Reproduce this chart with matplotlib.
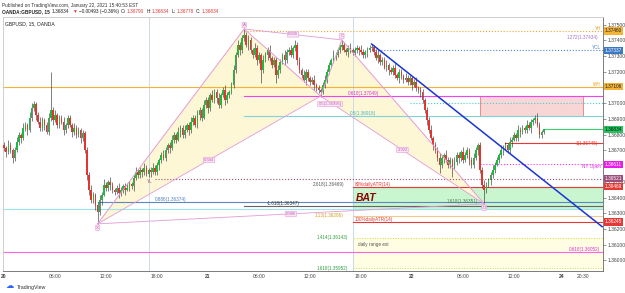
import numpy as np
import matplotlib
matplotlib.use('Agg')
import matplotlib.pyplot as plt
from matplotlib.patches import Rectangle, Polygon
import matplotlib.transforms as mtrans

plt.rcParams['font.family'] = ['Liberation Sans', 'DejaVu Sans']

## Dados: GBPUSD 15 min (OANDA), 20/01 00:00 -> 22/01 15:30
first_open = 1.36735
close = [
    1.36716, 1.36690, 1.36735, 1.36703, 1.36652, 1.36703, 1.36754, 1.36798, 1.36779, 1.36843,
    1.36862, 1.36830, 1.36907, 1.36970, 1.36996, 1.36926, 1.36881, 1.36843, 1.36894, 1.36862,
    1.36817, 1.36907, 1.36957, 1.36894, 1.36926, 1.36862, 1.36907, 1.36881, 1.36830, 1.36862,
    1.36907, 1.36862, 1.36817, 1.36843, 1.36798, 1.36830, 1.36779, 1.36811, 1.36703, 1.36544,
    1.36449, 1.36385, 1.36417, 1.36353, 1.36309, 1.36385, 1.36417, 1.36480, 1.36461, 1.36499,
    1.36480, 1.36449, 1.36436, 1.36461, 1.36430, 1.36449, 1.36474, 1.36449, 1.36461, 1.36487,
    1.36474, 1.36525, 1.36563, 1.36544, 1.36576, 1.36563, 1.36589, 1.36550, 1.36576, 1.36563,
    1.36589, 1.36563, 1.36608, 1.36639, 1.36671, 1.36652, 1.36703, 1.36735, 1.36716, 1.36767,
    1.36798, 1.36767, 1.36817, 1.36843, 1.36798, 1.36830, 1.36862, 1.36830, 1.36881, 1.36907,
    1.36862, 1.36926, 1.36957, 1.36907, 1.36989, 1.37021, 1.36970, 1.37053, 1.37021, 1.37072,
    1.37034, 1.36989, 1.37053, 1.37085, 1.37021, 1.37053, 1.37072, 1.37116, 1.37212, 1.37307,
    1.37371, 1.37339, 1.37415, 1.37434, 1.37371, 1.37403, 1.37339, 1.37307, 1.37352, 1.37275,
    1.37307, 1.37212, 1.37275, 1.37307, 1.37339, 1.37288, 1.37244, 1.37275, 1.37180, 1.37212,
    1.37263, 1.37307, 1.37275, 1.37326, 1.37339, 1.37307, 1.37352, 1.37371, 1.37275, 1.37212,
    1.37180, 1.37148, 1.37199, 1.37161, 1.37135, 1.37148, 1.37116, 1.37097, 1.37085, 1.37072,
    1.37116, 1.37148, 1.37199, 1.37244, 1.37275, 1.37307, 1.37307, 1.37339, 1.37358, 1.37371,
    1.37339, 1.37326, 1.37352, 1.37339, 1.37320, 1.37339, 1.37352, 1.37339, 1.37326, 1.37307,
    1.37326, 1.37339, 1.37352, 1.37358, 1.37326, 1.37288, 1.37307, 1.37263, 1.37275, 1.37225,
    1.37244, 1.37212, 1.37199, 1.37225, 1.37180, 1.37161, 1.37199, 1.37174, 1.37148, 1.37161,
    1.37135, 1.37161, 1.37116, 1.37135, 1.37097, 1.37085, 1.37072, 1.37021, 1.36957, 1.36894,
    1.36830, 1.36779, 1.36735, 1.36703, 1.36652, 1.36608, 1.36652, 1.36671, 1.36639, 1.36608,
    1.36639, 1.36589, 1.36627, 1.36671, 1.36652, 1.36690, 1.36639, 1.36671, 1.36703, 1.36639,
    1.36608, 1.36652, 1.36703, 1.36735, 1.36576, 1.36480, 1.36449, 1.36480, 1.36512, 1.36544,
    1.36576, 1.36608, 1.36639, 1.36671, 1.36703, 1.36716, 1.36735, 1.36703, 1.36754, 1.36767,
    1.36798, 1.36779, 1.36830, 1.36817, 1.36843, 1.36830, 1.36862, 1.36843, 1.36881, 1.36894,
    1.36907, 1.36862, 1.36798, 1.36817, 1.36834]
# pavios (em pips)
wick_up = [
    2, 1, 3, 2, 1, 2, 3, 2, 1, 3,  2, 1, 4, 3, 2, 1, 2, 3, 2, 1,
    2, 3, 24, 2, 3, 1, 2, 2, 3, 1,  2, 2, 1, 3, 2, 2, 1, 2, 1, 2,
    2, 3, 2, 1, 2, 3, 2, 4, 2, 1,  3, 2, 1, 2, 3, 2, 1, 2, 3, 2,
    1, 2, 3, 2, 2, 1, 3, 2, 1, 2,  3, 2, 2, 1, 2, 3, 2, 1, 2, 3,
    2, 1, 3, 2, 2, 3, 1, 2, 3, 2,  2, 3, 2, 1, 3, 2, 2, 1, 3, 2,
    2, 3, 1, 2, 3, 2, 1, 2, 3, 2,  3, 2, 2, 4, 2, 3, 2, 1, 3, 2,
    2, 1, 3, 2, 2, 3, 1, 2, 2, 3,  2, 1, 3, 2, 2, 3, 1, 3, 2, 2,
    1, 3, 2, 2, 1, 2, 3, 1, 2, 1,  2, 3, 2, 2, 1, 3, 2, 1, 2, 3,
    2, 1, 2, 3, 1, 2, 2, 1, 3, 2,  1, 2, 2, 2, 1, 2, 3, 1, 2, 2,
    3, 1, 2, 2, 3, 1, 2, 2, 1, 3,  2, 2, 1, 2, 3, 1, 2, 2, 1, 2,
    2, 3, 1, 2, 2, 3, 2, 1, 3, 2,  2, 1, 3, 2, 2, 1, 3, 2, 2, 1,
    2, 3, 2, 1, 2, 2, 3, 2, 1, 2,  3, 2, 2, 1, 3, 2, 2, 1, 3, 2,
    2, 1, 3, 2, 2, 1, 3, 2, 2, 1,  2, 3, 2, 1, 0]
wick_dn = [
    2, 3, 1, 2, 3, 2, 1, 2, 3, 1,  2, 3, 1, 2, 2, 3, 1, 2, 2, 3,
    1, 2, 2, 3, 1, 2, 2, 1, 3, 2,  2, 1, 3, 2, 2, 1, 3, 2, 2, 3,
    3, 2, 2, 3, 8, 2, 3, 1, 2, 2,  3, 2, 2, 1, 3, 2, 2, 3, 1, 2,
    2, 3, 1, 2, 2, 3, 2, 1, 2, 3,  1, 2, 2, 3, 2, 1, 2, 2, 3, 1,
    2, 2, 1, 3, 2, 2, 1, 3, 2, 2,  1, 2, 3, 2, 1, 2, 3, 2, 1, 2,
    3, 2, 2, 1, 3, 2, 2, 1, 2, 2,  1, 3, 2, 2, 1, 3, 2, 2, 1, 3,
    2, 8, 2, 1, 3, 2, 2, 1, 5, 2,  2, 1, 3, 2, 2, 1, 2, 2, 3, 2,
    2, 1, 3, 2, 2, 1, 3, 2, 2, 3,  1, 2, 2, 1, 2, 2, 3, 1, 2, 2,
    1, 2, 3, 2, 1, 2, 2, 3, 1, 2,  2, 3, 1, 2, 2, 1, 3, 2, 2, 1,
    2, 3, 1, 2, 2, 1, 3, 2, 2, 1,  2, 2, 3, 1, 2, 2, 3, 2, 2, 3,
    2, 1, 3, 2, 2, 5, 2, 3, 1, 2,  2, 6, 1, 2, 3, 2, 2, 1, 2, 3,
    2, 2, 1, 3, 2, 2, 9, 2, 1, 3,  2, 2, 1, 2, 2, 3, 1, 2, 2, 3,
    1, 2, 2, 3, 1, 2, 2, 1, 3, 2,  2, 1, 2, 2, 1]

# padrão harmônico (BAT): X, A, B, C, D  (índice da barra, preço)
pat_names = ['X', 'A', 'B', 'C', 'D']
pat_bar = [44, 113, 149, 159, 226]
pat_price = [1.36233, 1.37473, 1.37046, 1.37403, 1.36360]
pat_ratio = ['0.344', '0.836', '2.922', '0.886']   # XB, AC, BD, XD

# linha de tendência (barra, preço)
trend_bar = [173, 281.5]
trend_price = [1.37377, 1.36215]

# níveis horizontais
level_price = [1.37460, 1.37337, 1.37106, 1.37049, 1.37000, 1.36918, 1.36834, 1.36745,
               1.36611, 1.36521, 1.36469, 1.36374, 1.36347, 1.36326, 1.36286, 1.36245, 1.36052]
level_start = [113, 173, -1, 113, 191, 113, 254, 236, 224, 71, 164, 44, 113, -1, 164, 164, -1]
level_color = ['#f0a830', '#4a86d8', '#f5b335', '#ee44ee', '#40d0e0', '#7fd3d8', '#3ccf6e', '#e53935',
               '#ff33ff', '#9c4f7a', '#e53935', '#5b87c5', '#666666', '#9be3ef', '#f3c98b', '#e53935', '#ff66e0']
level_style = [':', ':', '-', '-', ':', '-', '-', '-', ':', ':', '-', '-', '-', '-', '-', '-', '-']

# marcações no eixo de preço
badge_price = [1.37460, 1.37337, 1.37106, 1.36834, 1.36611, 1.36521, 1.36469, 1.36245]
badge_color = ['#f5b335', '#3a78c3', '#f5b335', '#22c55e', '#e91ee9', '#9c4f7a', '#e53935', '#e53935']
badge_text = ['#222', 'white', '#222', '#111', 'white', 'white', 'white', 'white']

# zonas (barra inicial, barra final, preço baixo, preço alto)
zone_red = (224, 272.5, 1.36918, 1.37049)
zone_green = (164, 282, 1.36326, 1.36469)
zone_yellow = (164, 282, 1.35952, 1.36143)

# separadores de sessão (17:00 EST)
session_bar = [68, 164]

tick_pos = [0, 24, 48, 72, 96, 120, 144, 168, 192, 216, 240, 262.5, 272.5]
tick_lab = ['20', '06:00', '12:00', '18:00', '21', '06:00', '12:00', '18:00', '22', '06:00', '12:00', '24', '20:30']

## Figura
fig = plt.figure(figsize=(6.25, 2.93), dpi=100)
ax = fig.add_axes([3/625, 22/293, 600/625, 254/293])
ax.set_xlim(-0.5, 281.9)
ax.set_ylim(1.35933, 1.37549)

def bx(px):  # posição em pixels -> barra (só para textos)
    return (px - 4) / 2.125

# zonas
for (b0, b1, p0, p1), fc, ec, ls in [(zone_red, '#f9d6d6', '#f08a8a', '-'),
                                     (zone_green, '#c9f5cf', '#3ccf6e', '-'),
                                     (zone_yellow, '#fffde2', '#cddc39', ':')]:
    ax.add_patch(Rectangle((b0, p0), b1 - b0, p1 - p0, fc=fc, ec=ec, lw=0.7, ls=ls, zorder=1))

# padrão: triângulos XAB e BCD
pts = list(zip(pat_bar, pat_price))
ax.add_patch(Polygon([pts[0], pts[1], pts[2]], closed=True, fc='#fdf7d6', ec='none', zorder=1))
ax.add_patch(Polygon([pts[2], pts[3], pts[4]], closed=True, fc='#fdf7d6', ec='none', zorder=1))

for b in session_bar:
    ax.axvline(b, color='#c5d5ea', lw=0.6, zorder=1)

for p, s, col, ls in zip(level_price, level_start, level_color, level_style):
    ax.plot([s, 282], [p, p], color=col, ls=ls, lw=0.8, zorder=2)

## Candles
n = len(close)
xb = np.arange(n)
o = np.array([first_open] + close[:-1])
c = np.array(close)
hi = np.maximum(o, c) + np.array(wick_up) * 1e-4
lo = np.minimum(o, c) - np.array(wick_dn) * 1e-4
up = c >= o
ax.vlines(xb, lo, hi, color='#3a3a3a', lw=0.45, zorder=3)
ax.bar(xb[up], np.maximum(c - o, 2e-5)[up], bottom=o[up], width=0.75, color='#1db83e', lw=0, zorder=4)
ax.bar(xb[~up], np.maximum(o - c, 2e-5)[~up], bottom=c[~up], width=0.75, color='#e3342f', lw=0, zorder=4)

## Padrão harmônico
pink = '#e39bd6'
ax.plot(pat_bar, pat_price, color=pink, lw=0.7, zorder=5)
for i, j in [(0, 2), (1, 3), (2, 4), (0, 4)]:
    ax.plot([pat_bar[i], pat_bar[j]], [pat_price[i], pat_price[j]], color=pink, lw=0.6, zorder=5)
box = dict(boxstyle='round,pad=0.15', fc='#fbe6f6', ec=pink, lw=0.4)
for k, (nm, b, p) in enumerate(zip(pat_names, pat_bar, pat_price)):
    if nm in ('A', 'C'):
        ax.text(b, p + 0.00012, nm, fontsize=3.2, color='#c05fb0', ha='center', va='bottom', bbox=box, zorder=7)
    elif nm != 'B':
        ax.text(b, p - 0.00012, nm, fontsize=3.2, color='#c05fb0', ha='center', va='top', bbox=box, zorder=7)
for (i, j), r in zip([(0, 2), (1, 3), (2, 4), (0, 4)], pat_ratio):
    ax.text((pat_bar[i] + pat_bar[j]) / 2, (pat_price[i] + pat_price[j]) / 2, r, fontsize=3.0,
            color='#c05fb0', ha='center', va='center', bbox=box, zorder=7)

# linha de tendência
ax.plot(trend_bar, trend_price, color='#1a35d4', lw=1.1, zorder=6, clip_on=False)

## Textos dos níveis
fs = 3.3
def lab(px, price, s, col, ha='left', va='bottom', **kw):
    ax.text(bx(px), price, s, color=col, fontsize=fs, ha=ha, va=va, zorder=7, **kw)

lab(601, 1.37460, 'YH', '#e0a020', ha='right')
lab(598, 1.37434, '1.272(1.37434)', '#a070d0', ha='right', va='top')
lab(601, 1.37337, 'YCL', '#4a86d8', ha='right')
lab(601, 1.37106, 'WH', '#e0a020', ha='right')
lab(348, 1.37049, '0.618(1.37049)', '#e030e0')
lab(350, 1.36918, '0.5(1.36918)', '#40b8c0')
ax.text(bx(330), 1.36995, '0.5(1.36995)', fontsize=3.0, color='#c05fb0', ha='center', va='center', bbox=box, zorder=7)
lab(598, 1.36745, '1(1.36745)', '#e53935', ha='right', va='center')
lab(601, 1.36611, 'NY Open', '#e030e0', ha='right', va='top')
ax.text(bx(150), 1.36521, 'YL', color='#9c4f7a', fontsize=fs, ha='center', va='top', zorder=7)
lab(313, 1.36469, '2.618(1.36469)', '#555555')
lab(355, 1.36469, '80%dailyATR(14)', '#e53935')
ax.text(bx(356), 1.36395, 'BAT', color='#8b0000', fontsize=7.5, fontweight='bold', style='italic',
        ha='left', va='center', zorder=7)
lab(155, 1.36374, '0.886(1.36374)', '#4a7ebb')
lab(447, 1.36374, '1.618(1.36351)', '#4d7a55', va='center')
lab(267, 1.36347, '-1.618(1.36347)', '#333333')
lab(315, 1.36286, '1.13(1.36286)', '#d49a20', va='center')
lab(355, 1.36245, '100%dailyATR(14)', '#e53935')
lab(317, 1.36143, '1.414(1.36143)', '#2e9d3a', va='center')
lab(358, 1.36100, 'daily range ext', '#555555', va='center')
lab(600, 1.36052, '0.618(1.36052)', '#e030e0', ha='right')
lab(317, 1.35952, '1.618(1.35952)', '#2e9d3a', va='center')

ax.text(0.004, 0.985, 'GBPUSD, 15, OANDA', transform=ax.transAxes, fontsize=3.6, color='#222',
        ha='left', va='top', zorder=7)

## Eixos
ax.yaxis.tick_right()
yt = [1.360 + 0.001 * k for k in range(16)]
ax.set_yticks(yt)
# rótulos escondidos atrás das marcações de preço ficam vazios
ax.set_yticklabels(['' if min(abs(v - b) for b in badge_price) < 0.00015 else f'{v:.5f}' for v in yt])
ax.tick_params(axis='y', length=2, width=0.4, pad=1.5, labelsize=3.6, colors='#444')
ax.set_xticks(tick_pos)
ax.set_xticklabels(tick_lab)
ax.tick_params(axis='x', length=0, pad=2.5, labelsize=3.6, colors='#444')
for t, s in zip(ax.get_xticklabels(), tick_lab):
    if ':' not in s:
        t.set_fontweight('bold')
for side in ['left', 'top']:
    ax.spines[side].set_color('#c8c8c8')
    ax.spines[side].set_linewidth(0.6)
for side in ['right', 'bottom']:
    ax.spines[side].set_color('#666666')
    ax.spines[side].set_linewidth(0.6)

trans = mtrans.blended_transform_factory(ax.transAxes, ax.transData)
for p, bc, tc in zip(badge_price, badge_color, badge_text):
    ax.text(1.003, p, f'{p:.5f}', transform=trans, fontsize=3.4, color=tc, ha='left', va='center',
            bbox=dict(boxstyle='square,pad=0.25', fc=bc, ec='none'), clip_on=False, zorder=8)

## Cabeçalho
fig.text(2/625, 1 - 5/293, 'Published on TradingView.com, January 22, 2021 15:40:53 EST',
         fontsize=3.4, color='#333', va='center')
hy = 1 - 11.5/293
header_parts = [('OANDA:GBPUSD, 15', '#222', 'bold'), ('1.36834', '#222', 'normal'), ('▼', '#e53935', 'normal'),
                ('−0.00493 (−0.36%)', '#222', 'normal'), ('O:', '#222', 'normal'), ('1.36790', '#e53935', 'normal'),
                ('H:', '#222', 'normal'), ('1.36834', '#e53935', 'normal'), ('L:', '#222', 'normal'),
                ('1.36778', '#e53935', 'normal'), ('C:', '#222', 'normal'), ('1.36834', '#e53935', 'normal')]
renderer = fig.canvas.get_renderer()
cur = 2.0
for s, col, fw in header_parts:
    t = fig.text(cur/625, hy, s, fontsize=3.4, color=col, va='center', fontweight=fw)
    w = t.get_window_extent(renderer=renderer).width
    cur += w + (1.0 if s.endswith(':') else 2.2)

fig.text(6/625, 1 - 287/293, '☁', fontsize=6, color='#2962ff', va='center')
fig.text(17/625, 1 - 287/293, 'TradingView', fontsize=3.8, color='#333', va='center')

fig.savefig('out.png', dpi=100)
